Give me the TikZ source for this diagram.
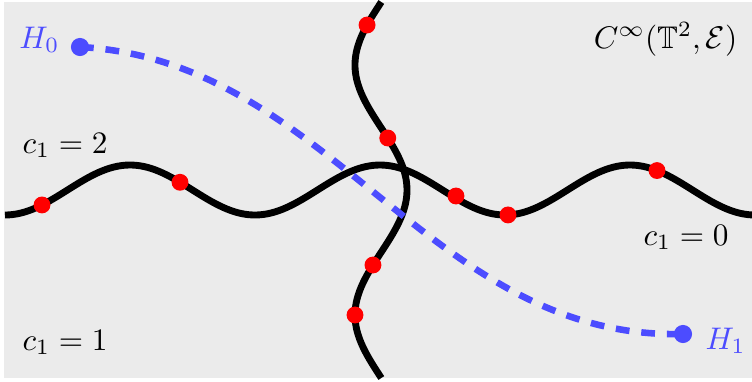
\documentclass[tikz,border=0pt]{standalone}
\usepackage{amsmath,amssymb}
\definecolor{bgray}{RGB}{235,235,235}
\tikzset{
  curve/.style={line width=2.2pt, black},
  hpath/.style={line width=2.1pt, blue!70, dash pattern=on 4.4pt off 3.8pt},
  rdot/.style={circle, fill=red, inner sep=0pt, minimum size=5.4pt},
  bdot/.style={circle, fill=blue!70, inner sep=0pt, minimum size=5.8pt},
  lbl/.style={inner sep=0pt, font=\normalsize},
}
\begin{document}
\begin{tikzpicture}[x=0.32pt,y=-0.32pt]
\useasboundingbox (0,0) rectangle (752,381);
\fill[bgray] (4.5,2) rectangle (752,378);
% horizontal curve
\draw[curve] plot[domain=5:752, samples=200, smooth] (\x,{190+25*cos(1.44*(\x-5))});
% vertical curve
\draw[curve] plot[domain=2:378, samples=150, smooth] ({381-26*cos(1.44*(\x-65))},\x);
% path H0 -> H1
\coordinate (h0) at (80,47);
\coordinate (h1) at (683,334);
\draw[hpath] (h0) .. controls (330,60) and (430,340) .. (h1);
\node[bdot] (H0dot) at (h0) {};
\node[bdot] (H1dot) at (h1) {};
% red dots
\node[rdot] (r1) at (42,{190+25*cos(1.44*37)}) {};
\node[rdot] (r2) at (180,{190+25*cos(1.44*175)}) {};
\node[rdot] (r3) at (456,196) {};
\node[rdot] (r4) at (508,{190+25*cos(1.44*503)}) {};
\node[rdot] (r5) at (657,{190+25*cos(1.44*652)}) {};
\node[rdot] (r6) at ({381-26*cos(1.44*(25-65))},25) {};
\node[rdot] (r7) at ({381-26*cos(1.44*(138-65))},138) {};
\node[rdot] (r8) at ({381-26*cos(1.44*(265-65))},265) {};
\node[rdot] (r9) at ({381-26*cos(1.44*(315-65))},315) {};
% labels
\node[lbl, anchor=base east, text=blue!70] (lH0) at (60,48) {$H_0$};
\node[lbl, anchor=base west, text=blue!70] (lH1) at (705,349) {$H_1$};
\node[lbl, anchor=base east] (lC) at (738,48) {$C^\infty(\mathbb{T}^2,\mathcal{E})$};
\node[lbl, anchor=base west] (l2) at (22,153) {$c_1=2$};
\node[lbl, anchor=base west] (l0) at (643,245) {$c_1=0$};
\node[lbl, anchor=base west] (l1) at (22,350) {$c_1=1$};
\end{tikzpicture}
\end{document}
